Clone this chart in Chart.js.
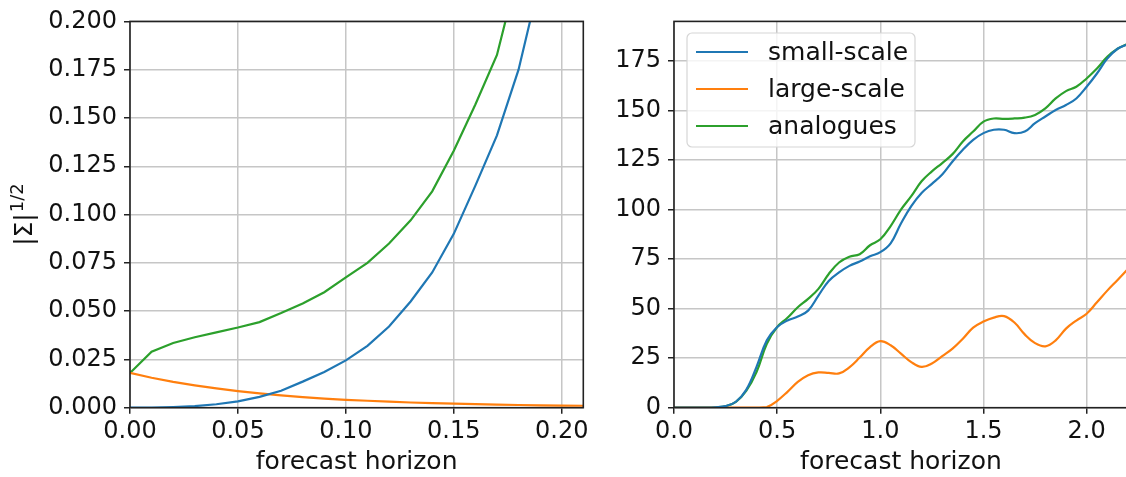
<!DOCTYPE html>
<html>
<head>
<meta charset="utf-8">
<script src="https://cdn.jsdelivr.net/npm/chart.js@4.4.1/dist/chart.umd.min.js"></script>
<style>
  html, body { margin: 0; padding: 0; background: #fff; overflow: hidden; }
  #wrap { position: relative; width: 1126px; height: 477px; overflow: hidden; }
  #left { position: absolute; left: 0; top: 0; }
  #right { position: absolute; left: 600px; top: 0; }
</style>
</head>
<body>
<div id="wrap">
  <canvas id="left" width="600" height="477"></canvas>
  <canvas id="right" width="540" height="477"></canvas>
</div>
<script>
// short horizons, one value every 0.01
const leftX = [0, 0.01, 0.02, 0.03, 0.04, 0.05, 0.06, 0.07, 0.08, 0.09, 0.10,
  0.11, 0.12, 0.13, 0.14, 0.15, 0.16, 0.17, 0.18, 0.19, 0.20, 0.21];
const leftSmall = [0, 0, 0.0003, 0.0008, 0.0018, 0.0033, 0.0056, 0.0088, 0.0135, 0.0185, 0.0245,
  0.032, 0.042, 0.055, 0.070, 0.090, 0.115, 0.141, 0.175, 0.222, 0.26, 0.30];
const leftLarge = [0.0180, 0.0155, 0.0134, 0.0116, 0.0100, 0.0086, 0.0074, 0.0064, 0.0055, 0.0047, 0.0041,
  0.0036, 0.0031, 0.0027, 0.0024, 0.0021, 0.0018, 0.0016, 0.0014, 0.0012, 0.0011, 0.0010];
const leftAnalogues = [0.018, 0.029, 0.0335, 0.0365, 0.039, 0.0415, 0.0443, 0.049, 0.054, 0.0598, 0.0675,
  0.075, 0.085, 0.097, 0.112, 0.133, 0.157, 0.1826, 0.227, 0.26, 0.30, 0.34];

// long horizons, one value every 0.05
const rightX = [0, 0.05, 0.1, 0.15, 0.2, 0.25, 0.3, 0.35, 0.4, 0.45, 0.5, 0.55, 0.6, 0.65, 0.7, 0.75,
  0.8, 0.85, 0.9, 0.95, 1.0, 1.05, 1.1, 1.15, 1.2, 1.25, 1.3, 1.35, 1.4, 1.45, 1.5, 1.55, 1.6, 1.65,
  1.7, 1.75, 1.8, 1.85, 1.9, 1.95, 2.0, 2.05, 2.1, 2.15, 2.2];
const rightSmall = [0, 0, 0, 0, 0.2, 0.8, 3, 9, 20.6, 34, 40.7, 44, 46, 49, 56.6, 64, 68.3, 71.6, 73.8,
  76.4, 78.5, 83, 93, 101.8, 108.4, 113, 117.7, 124.3, 130.2, 135.2, 138.6, 140.3, 140.3, 138.6, 139.4,
  143.6, 147, 150.3, 152.8, 156.1, 162, 168.7, 176.2, 181.2, 183.5];
const rightLarge = [0, 0, 0, 0, 0, 0, 0, 0, 0, 0.3, 3.5, 8, 13, 16.4, 17.8, 17.6, 17.3, 20.4, 25.3, 30.6,
  33.6, 31.5, 27.3, 23, 20.6, 22.3, 26, 29.8, 34.8, 40.4, 43.5, 45.5, 46.2, 43, 37, 32.6, 31, 34, 39.9,
  44, 47.4, 53.2, 59.1, 64.5, 70];
const rightAnalogues = [0, 0, 0, 0, 0.2, 0.7, 3, 8.5, 18, 32.3, 40.7, 45.4, 50.7, 54.9, 60, 67.5, 73.3,
  76.2, 77.5, 82, 85, 91.7, 100, 106.8, 114.3, 119.3, 123.5, 128, 134.4, 139.4, 144.4, 146, 145.8, 146,
  146.4, 147.8, 151.1, 156.1, 159.8, 162, 166.2, 171.2, 177.1, 181.2, 183.7];

const leftXTicks = [0, 0.05, 0.1, 0.15, 0.2];
const leftYTicks = [0, 0.025, 0.05, 0.075, 0.1, 0.125, 0.15, 0.175, 0.2];
const rightXTicks = [0, 0.5, 1.0, 1.5, 2.0];
const rightYTicks = [0, 25, 50, 75, 100, 125, 150, 175];

const seriesNames = ["small-scale", "large-scale", "analogues"];
const seriesColors = ["#1f77b4", "#ff7f0e", "#2ca02c"];

const FONT = "DejaVu Sans";
const FS = 24;      // tick labels
const FS_TXT = 25;  // axis titles and legend
const INK = "#111";

Chart.defaults.font.family = FONT;
Chart.defaults.color = INK;

function pts(xs, ys) {
  return xs.map((x, i) => ({ x: x, y: ys[i] }));
}

function makeSets(xs, lists, smooth) {
  return lists.map((ys, i) => ({
    label: seriesNames[i],
    data: pts(xs, ys),
    borderColor: seriesColors[i],
    borderWidth: 2.2,
    pointRadius: 0,
    fill: false,
    tension: smooth ? 0.4 : 0,
  }));
}

// frame round the plot area, drawn over the lines
const frame = {
  id: "frame",
  afterDatasetsDraw(chart) {
    const { ctx, chartArea: a } = chart;
    ctx.save();
    ctx.strokeStyle = "#222";
    ctx.lineWidth = 1.6;
    ctx.strokeRect(a.left, a.top, a.right - a.left, a.bottom - a.top);
    ctx.restore();
  },
};

// |Σ|^(1/2) label with a real superscript
const sigmaLabel = {
  id: "sigmaLabel",
  afterDraw(chart) {
    const { ctx, chartArea: a } = chart;
    const main = "|Σ|";
    const sup = "1/2";
    const supSize = Math.round(FS_TXT * 0.7);
    ctx.save();
    ctx.fillStyle = INK;
    ctx.font = FS_TXT + "px '" + FONT + "'";
    const w1 = ctx.measureText(main).width;
    ctx.font = supSize + "px '" + FONT + "'";
    const w2 = ctx.measureText(sup).width;
    const total = w1 + w2 + 1;
    ctx.translate(32, (a.top + a.bottom) / 2);
    ctx.rotate(-Math.PI / 2);
    ctx.textBaseline = "alphabetic";
    ctx.textAlign = "left";
    ctx.font = FS_TXT + "px '" + FONT + "'";
    ctx.fillText(main, -total / 2, 0);
    ctx.font = supSize + "px '" + FONT + "'";
    ctx.fillText(sup, -total / 2 + w1 + 1, -9);
    ctx.restore();
  },
};

// legend box in the upper left of the plot area
const boxLegend = {
  id: "boxLegend",
  afterDatasetsDraw(chart) {
    const { ctx } = chart;
    const bx = 87, by = 33, bw = 228, bh = 114, r = 5;
    ctx.save();
    ctx.beginPath();
    ctx.moveTo(bx + r, by);
    ctx.arcTo(bx + bw, by, bx + bw, by + bh, r);
    ctx.arcTo(bx + bw, by + bh, bx, by + bh, r);
    ctx.arcTo(bx, by + bh, bx, by, r);
    ctx.arcTo(bx, by, bx + bw, by, r);
    ctx.closePath();
    ctx.fillStyle = "rgba(255,255,255,0.8)";
    ctx.fill();
    ctx.strokeStyle = "#d6d6d6";
    ctx.lineWidth = 1.2;
    ctx.stroke();
    ctx.font = FS_TXT + "px '" + FONT + "'";
    ctx.textBaseline = "middle";
    ctx.textAlign = "left";
    seriesNames.forEach((name, i) => {
      const y = 52 + i * 37;
      ctx.strokeStyle = seriesColors[i];
      ctx.lineWidth = 2.2;
      ctx.beginPath();
      ctx.moveTo(96, y);
      ctx.lineTo(148, y);
      ctx.stroke();
      ctx.fillStyle = INK;
      ctx.fillText(name, 168, y + 1);
    });
    ctx.restore();
  },
};

function scaleOpts(cfg) {
  return {
    x: {
      type: "linear",
      min: 0,
      max: cfg.xMax,
      afterFit(s) { s.height = 69.3; },
      afterBuildTicks(s) { s.ticks = cfg.xTicks.map(v => ({ value: v })); },
      ticks: {
        font: { size: FS },
        padding: 4,
        maxRotation: 0,
        color: INK,
        callback: v => v.toFixed(cfg.xDec),
      },
      grid: { color: "#c6c6c6", lineWidth: 1.5, tickColor: "#222", tickLength: 6 },
      border: { display: false },
      title: { display: true, text: "forecast horizon", font: { size: FS_TXT }, color: INK, padding: 0 },
    },
    y: {
      type: "linear",
      min: 0,
      max: cfg.yMax,
      afterFit(s) { s.width = cfg.yWidth; },
      afterBuildTicks(s) { s.ticks = cfg.yTicks.map(v => ({ value: v })); },
      ticks: {
        font: { size: FS },
        padding: 7,
        color: INK,
        callback: v => v.toFixed(cfg.yDec),
      },
      grid: { color: "#c6c6c6", lineWidth: 1.5, tickColor: "#222", tickLength: 6 },
      border: { display: false },
    },
  };
}

new Chart(document.getElementById("left"), {
  type: "line",
  data: { datasets: makeSets(leftX, [leftSmall, leftLarge, leftAnalogues], false) },
  options: {
    responsive: false,
    animation: false,
    layout: { padding: { top: 19.5, right: 16.7, left: 0, bottom: 0 } },
    plugins: { legend: { display: false }, tooltip: { enabled: false } },
    scales: scaleOpts({ xMax: 0.21, xTicks: leftXTicks, xDec: 2, yMax: 0.2, yTicks: leftYTicks, yDec: 3, yWidth: 130 }),
  },
  plugins: [frame, sigmaLabel],
});

new Chart(document.getElementById("right"), {
  type: "line",
  data: { datasets: makeSets(rightX, [rightSmall, rightLarge, rightAnalogues], true) },
  options: {
    responsive: false,
    animation: false,
    layout: { padding: { top: 19.5, right: 12.1, left: 0, bottom: 0 } },
    plugins: { legend: { display: false }, tooltip: { enabled: false } },
    scales: scaleOpts({ xMax: 2.2, xTicks: rightXTicks, xDec: 1, yMax: 195, yTicks: rightYTicks, yDec: 0, yWidth: 74 }),
  },
  plugins: [frame, boxLegend],
});
</script>
</body>
</html>
